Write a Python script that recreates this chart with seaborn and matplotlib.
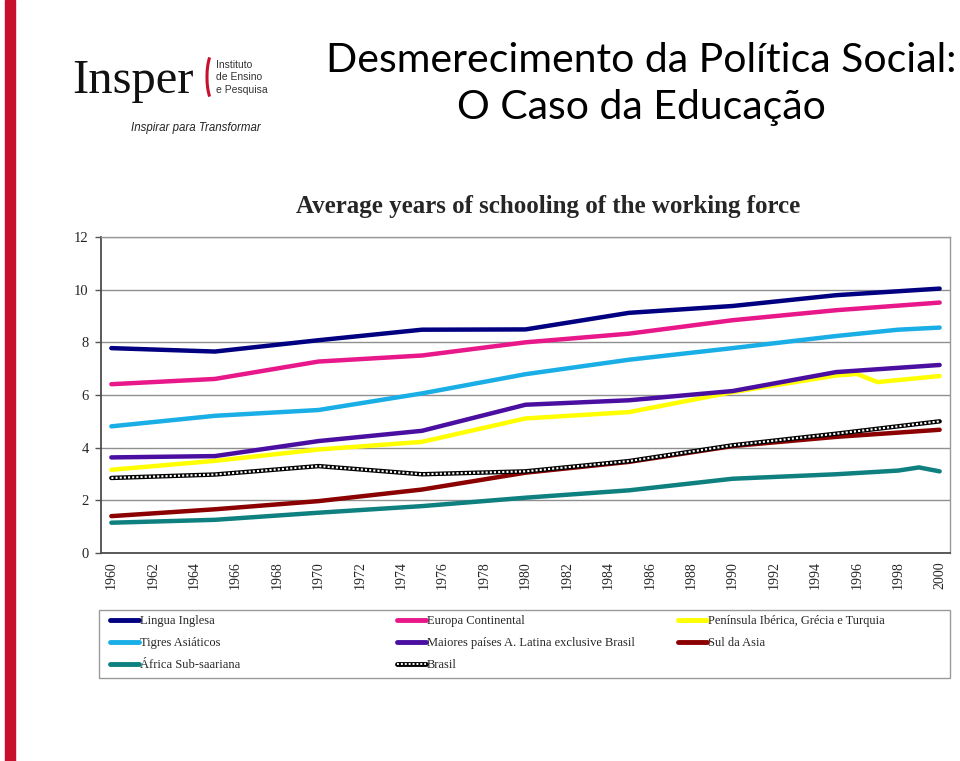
import numpy as np
import pandas as pd
import matplotlib
matplotlib.use('Agg')
import matplotlib.pyplot as plt
import seaborn as sns
from matplotlib.lines import Line2D
from matplotlib.patches import Rectangle, Arc

# Series names (legend order) and colours
names = ['Lingua Inglesa', 'Europa Continental', 'Península Ibérica, Grécia e Turquia',
         'Tigres Asiáticos', 'Maiores países A. Latina exclusive Brasil', 'Sul da Asia',
         'África Sub-saariana', 'Brasil']
colors = ['#000080', '#E8178A', '#FFFF00', '#1AAEE6', '#4A0FA0', '#8B0000', '#0F8080', '#000000']

# Values (years where the lines bend)
years5 = [1960, 1965, 1970, 1975, 1980, 1985, 1990, 1995, 2000]
lingua = [7.78, 7.65, 8.08, 8.48, 8.49, 9.12, 9.38, 9.79, 10.04]
europa = [6.41, 6.61, 7.27, 7.50, 8.00, 8.33, 8.84, 9.22, 9.51]
peninsula_years = [1960, 1965, 1970, 1975, 1980, 1985, 1990, 1995, 1996, 1997, 2000]
peninsula = [3.16, 3.50, 3.93, 4.22, 5.11, 5.35, 6.11, 6.74, 6.80, 6.49, 6.72]
tigres_years = [1960, 1965, 1970, 1975, 1980, 1985, 1990, 1995, 1998, 2000]
tigres = [4.81, 5.21, 5.43, 6.06, 6.79, 7.34, 7.78, 8.24, 8.48, 8.56]
latina = [3.63, 3.68, 4.25, 4.64, 5.63, 5.80, 6.15, 6.87, 7.14]
sul_asia = [1.40, 1.66, 1.97, 2.41, 3.05, 3.46, 4.06, 4.41, 4.68]
africa_years = [1960, 1965, 1970, 1975, 1980, 1985, 1990, 1995, 1998, 1999, 2000]
africa = [1.15, 1.26, 1.53, 1.78, 2.10, 2.38, 2.82, 2.99, 3.13, 3.25, 3.10]
brasil = [2.85, 2.98, 3.30, 2.99, 3.10, 3.49, 4.09, 4.53, 5.00]

series = [(years5, lingua), (years5, europa), (peninsula_years, peninsula),
          (tigres_years, tigres), (years5, latina), (years5, sul_asia),
          (africa_years, africa), (years5, brasil)]

rows = []
for name, (xs, ys) in zip(names, series):
    for x, y in zip(xs, ys):
        rows.append({'year': x, 'value': y, 'series': name})
df = pd.DataFrame(rows)

sns.set_style('white')
plt.rcParams['font.family'] = ['Liberation Serif', 'DejaVu Serif']
plt.rcParams['lines.solid_capstyle'] = 'round'

W, H = 960, 761
fig = plt.figure(figsize=(9.6, 7.61), dpi=100)

# red bar on the left edge
fig.patches.append(Rectangle((5 / W, 0), 10 / W, 1, transform=fig.transFigure,
                             color='#C8102E', zorder=0))

# logo
fig.text(72 / W, 1 - 93 / H, 'Insper', fontsize=35, family='Liberation Serif',
         color='#111111', va='baseline')
fig.patches.append(Arc((214 / W, 1 - 77 / H), 14 / W, 50 / H, theta1=100, theta2=260,
                       transform=fig.transFigure, color='#C8102E', linewidth=2.2))
for i, t in enumerate(['Instituto', 'de Ensino', 'e Pesquisa']):
    fig.text(216 / W, 1 - (65 + 12.5 * i) / H, t, fontsize=7.5, family='Liberation Sans',
             color='#333333', va='center')
fig.text(131 / W, 1 - 128 / H, 'Inspirar para Transformar', fontsize=8.3,
         family='Liberation Sans', style='italic', color='#222222', va='center')

# slide title
fig.text(641 / W, 1 - 60 / H, 'Desmerecimento da Política Social:', fontsize=29.5,
         family='Lato', ha='center', va='center', color='black')
fig.text(641 / W, 1 - 108 / H, 'O Caso da Educação', fontsize=29.5,
         family='Lato', ha='center', va='center', color='black')

# chart title
fig.text(548 / W, 1 - 206 / H, 'Average years of schooling of the working force',
         fontsize=18, fontweight='bold', ha='center', va='center')

ax = fig.add_axes([101 / W, 1 - 553 / H, 849 / W, 316 / H])
sns.lineplot(data=df, x='year', y='value', hue='series', hue_order=names,
             palette=colors, linewidth=3.2, legend=False, estimator=None, ax=ax)
# white dots on top of the Brasil line
ax.plot(years5, brasil, color='white', linewidth=1.5, linestyle=(0, (1, 1)),
        solid_capstyle='butt', zorder=5)

ax.set_xlim(1959.5, 2000.5)
ax.set_ylim(0, 12)
ax.set_yticks(range(0, 13, 2))
ax.set_xticks(range(1960, 2001, 2))
ax.set_xticklabels([str(y) for y in range(1960, 2001, 2)], rotation=90)
ax.set_xticks(np.arange(1959.5, 2001, 1), minor=True)
ax.tick_params(axis='x', which='major', length=0, labelsize=10, pad=6)
ax.tick_params(axis='x', which='minor', length=4, width=1, color='#555555', direction='out')
ax.tick_params(axis='y', length=4, width=1, color='#555555', direction='out',
               labelsize=10.5, pad=5, left=True)
ax.yaxis.grid(True, color='#8f8f8f', linewidth=1)
ax.set_axisbelow(True)
ax.set_xlabel('')
ax.set_ylabel('')
for side in ['left', 'bottom']:
    ax.spines[side].set_color('#4d4d4d')
    ax.spines[side].set_linewidth(1.3)
for side in ['top', 'right']:
    ax.spines[side].set_color('#999999')
    ax.spines[side].set_linewidth(1)

# legend: frame plus three columns
fig.patches.append(Rectangle((99 / W, 1 - 678 / H), 851 / W, 68 / H,
                             transform=fig.transFigure, fill=False,
                             edgecolor='#9a9a9a', linewidth=1))
handles = []
for name, c in zip(names, colors):
    if name == 'Brasil':
        handles.append((Line2D([], [], color='black', linewidth=3.5),
                        Line2D([], [], color='white', linewidth=1.4, linestyle=(0, (1, 1)))))
    else:
        handles.append(Line2D([], [], color=c, linewidth=3.5))
columns = [[0, 3, 6], [1, 4, 7], [2, 5]]
col_x = [110, 397, 678]
for cx, idx in zip(col_x, columns):
    fig.legend([handles[i] for i in idx], [names[i] for i in idx], loc='upper left',
               bbox_to_anchor=(cx / W, 1 - 615 / H), frameon=False, fontsize=9,
               handlelength=2.3, handletextpad=0.1, labelspacing=0.82,
               borderpad=0, borderaxespad=0)

fig.savefig('out.png', dpi=100)
